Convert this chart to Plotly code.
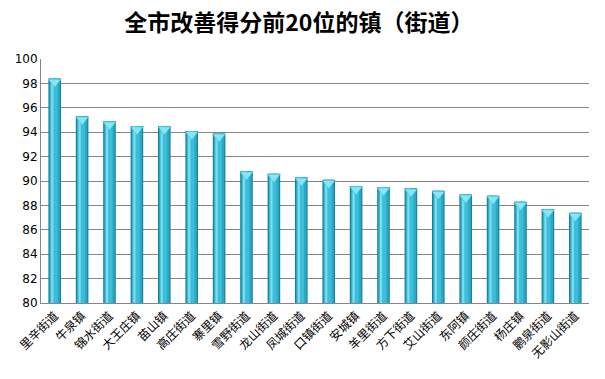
import plotly.graph_objects as go

towns = ["里辛街道", "牛泉镇", "锦水街道", "大王庄镇", "苗山镇", "高庄街道", "寨里镇",
         "雪野街道", "龙山街道", "凤城街道", "口镇街道", "安城镇", "羊里街道", "方下街道",
         "艾山街道", "东阿镇", "颜庄街道", "杨庄镇", "鹏泉街道", "无影山街道"]
scores = [98.4, 95.3, 94.9, 94.5, 94.5, 94.1, 93.9, 90.8, 90.6, 90.3,
          90.1, 89.6, 89.5, 89.4, 89.2, 88.9, 88.8, 88.3, 87.7, 87.4]
y_ticks = list(range(80, 101, 2))

fig = go.Figure()
# cylinder-like shading made of overlaid bars
layers = [("#1A7F98", 0.46, 0), ("#2AA9C6", 0.38, 0), ("#3DBED8", 0.26, -0.03), ("#7ADCEE", 0.08, -0.09)]
for color, w, off in layers:
    fig.add_trace(go.Bar(x=list(range(len(towns))), y=[s - 80 for s in scores], base=80,
                         width=w, offset=-w / 2 + off, marker=dict(color=color, line=dict(width=0)),
                         hoverinfo="skip", showlegend=False))
# top cap
fig.add_trace(go.Scatter(x=list(range(len(towns))), y=[s - 0.28 for s in scores], mode="markers",
                         marker=dict(symbol="triangle-down", size=11, color="#86E6F6",
                                     line=dict(width=0.5, color="#3BB8D2")),
                         hoverinfo="skip", showlegend=False))

fig.update_layout(
    width=605, height=379,
    margin=dict(l=41, r=16, t=59, b=76, autoexpand=False),
    paper_bgcolor="white", plot_bgcolor="white",
    barmode="overlay", bargap=0.5,
    title=dict(text="<b>全市改善得分前20位的镇（街道）</b>", x=0.494, xanchor="center",
               xref="container", yref="container", y=0.94, yanchor="middle",
               font=dict(family="Noto Sans CJK SC", size=23, color="#000000")),
    xaxis=dict(tickmode="array", tickvals=list(range(len(towns))), ticktext=towns,
               tickangle=-45, range=[-0.5, len(towns) - 0.5], automargin=False,
               tickfont=dict(family="Noto Sans CJK SC", size=12, color="#000000"),
               showline=True, linecolor="#868686", linewidth=1, ticks="", showgrid=False),
    yaxis=dict(range=[80, 100], tickvals=y_ticks, showgrid=True, gridcolor="#868686", gridwidth=1,
               showline=True, linecolor="#868686", linewidth=1, ticks="", automargin=False,
               tickfont=dict(family="DejaVu Sans", size=12, color="#000000"), zeroline=False),
)
fig.write_html("out.html", config={"displayModeBar": False},
               post_script="document.body.style.margin='0';document.body.style.overflow='hidden';")
